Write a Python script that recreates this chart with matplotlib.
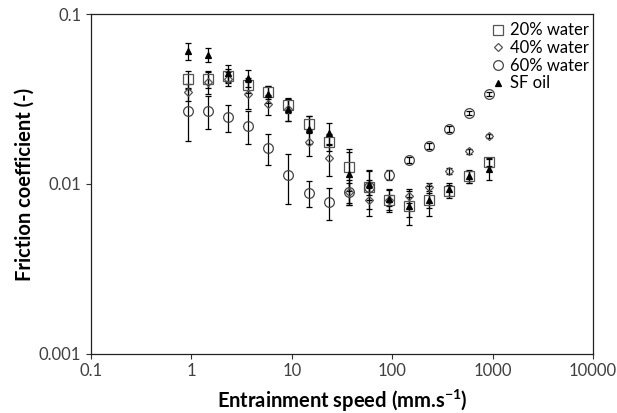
import matplotlib
matplotlib.use('Agg')
import matplotlib.pyplot as plt
from matplotlib.ticker import FixedLocator, FixedFormatter, NullLocator

# 数据
speed = [0.93, 1.47, 2.33, 3.69, 5.85, 9.27, 14.7, 23.3, 36.9, 58.5,
         92.7, 147, 233, 369, 585, 927]

water20 = [0.0415, 0.0415, 0.0432, 0.0382, 0.0348, 0.0292, 0.0225, 0.0177,
           0.0126, 0.0096, 0.0080, 0.0074, 0.0080, 0.0091, 0.0111, 0.0135]
water20_err = [0.005, 0.005, 0.004, 0.004, 0.003, 0.003, 0.0025, 0.002,
               0.0035, 0.0025, 0.0012, 0.001, 0.0008, 0.0008, 0.0009, 0.0008]

water40 = [0.0348, 0.0398, 0.0415, 0.0338, 0.0296, 0.0276, 0.0177, 0.0142,
           0.0090, 0.0080, 0.0080, 0.0085, 0.0096, 0.0119, 0.0156, 0.0192]
water40_err = [0.004, 0.006, 0.004, 0.006, 0.004, 0.004, 0.003, 0.003,
               0.0015, 0.0015, 0.0006, 0.0008, 0.0005, 0.0005, 0.0005, 0.0005]

water60 = [0.0270, 0.0270, 0.0248, 0.0219, 0.0163, 0.0113, 0.00885, 0.00783,
           0.00897, 0.0096, 0.0113, 0.01384, 0.01675, 0.0211, 0.0262, 0.0338]
water60_err = [0.009, 0.006, 0.0045, 0.0048, 0.0034, 0.0037, 0.0015, 0.0017,
               0.0012, 0.001, 0.0008, 0.0006, 0.0006, 0.0008, 0.0008, 0.0008]

sf_oil = [0.0606, 0.0574, 0.0450, 0.0420, 0.0338, 0.0276, 0.0211, 0.0200,
          0.0115, 0.0100, 0.0082, 0.0074, 0.0081, 0.0093, 0.0111, 0.0123]
sf_oil_err = [0.007, 0.0055, 0.005, 0.005, 0.004, 0.004, 0.004, 0.003,
              0.004, 0.002, 0.0012, 0.0017, 0.0016, 0.0008, 0.001, 0.0018]

x_ticks = [0.1, 1, 10, 100, 1000, 10000]
x_tick_labels = ['0.1', '1', '10', '100', '1000', '10000']
y_ticks = [0.001, 0.01, 0.1]
y_tick_labels = ['0.001', '0.01', '0.1']

plt.rcParams['font.family'] = ['Lato', 'DejaVu Sans']

fig = plt.figure(figsize=(6.17, 4.13), dpi=100)
ax = fig.add_axes([0.1475, 0.1429, 0.8135, 0.8232])

series = [
    (water20, water20_err, 's', 6.5, '#555555', 'none', '20% water'),
    (water40, water40_err, 'D', 4.5, '#555555', 'none', '40% water'),
    (water60, water60_err, 'o', 7, '#444444', 'none', '60% water'),
    (sf_oil, sf_oil_err, '^', 4, 'black', 'black', 'SF oil'),
]

handles = []
for vals, err, mk, ms, ec, fc, lab in series:
    ax.errorbar(speed, vals, yerr=err, fmt='none', ecolor='black',
                elinewidth=0.9, capsize=2.5, capthick=0.9, zorder=2)
for vals, err, mk, ms, ec, fc, lab in series:
    h, = ax.plot(speed, vals, linestyle='none', marker=mk, markersize=ms,
                 markeredgecolor=ec, markerfacecolor=fc, markeredgewidth=0.9,
                 label=lab, zorder=3)
    handles.append(h)

ax.set_xscale('log')
ax.set_yscale('log')
ax.set_xlim(0.1, 10000)
ax.set_ylim(0.001, 0.1)

ax.xaxis.set_major_locator(FixedLocator(x_ticks))
ax.xaxis.set_major_formatter(FixedFormatter(x_tick_labels))
ax.yaxis.set_major_locator(FixedLocator(y_ticks))
ax.yaxis.set_major_formatter(FixedFormatter(y_tick_labels))
ax.xaxis.set_minor_locator(NullLocator())
ax.yaxis.set_minor_locator(NullLocator())
ax.tick_params(axis='both', direction='out', length=3.5, width=0.8,
               labelsize=12, labelcolor='#404040', color='#333333')
ax.tick_params(axis='x', pad=3)

for sp in ax.spines.values():
    sp.set_linewidth(0.9)
    sp.set_color('#222222')

ax.set_xlabel('Entrainment speed (mm.s$^{\\mathregular{-1}}$)', fontsize=14.5,
              fontweight='bold', labelpad=6)
ax.set_ylabel('Friction coefficient (-)', fontsize=14.5, fontweight='bold',
              labelpad=3)

ax.legend(handles=handles, loc='upper right', bbox_to_anchor=(1.005, 0.995),
          frameon=False, fontsize=12, handlelength=0.6, handletextpad=0.4,
          labelspacing=0.1, borderaxespad=0.0, markerscale=1.0)

plt.savefig('out.png', dpi=100)
plt.close()
